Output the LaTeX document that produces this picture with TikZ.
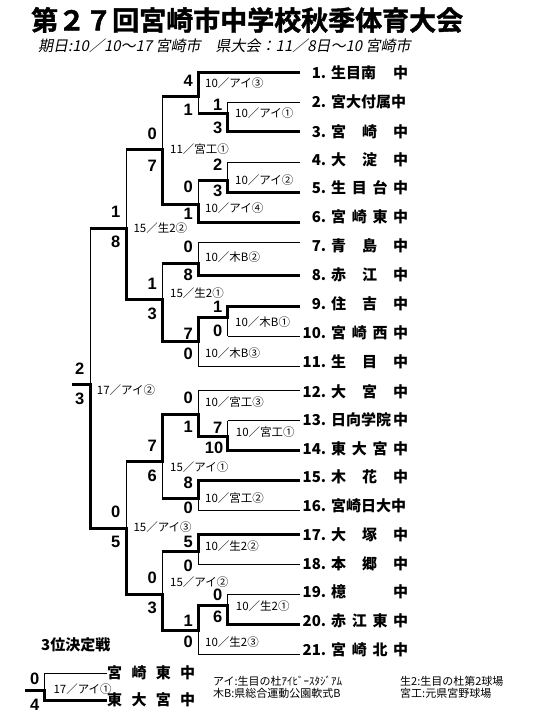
\documentclass[tikz,border=0pt]{standalone}
\usepackage{fontspec}
\newfontfamily\jp{Noto Sans CJK JP}
\newfontfamily\jpheavy[UprightFont=* Bold, FakeBold=1.5]{Noto Sans CJK JP}
\newfontfamily\jpslant[FakeSlant=0.2]{Noto Sans CJK JP}
\newfontfamily\numfont{Liberation Sans}
\usetikzlibrary{calc}
% team entry: number, then the name spread over a fixed width
\newcommand{\teamname}[2]{\makebox[19pt][r]{#1}\hspace{5pt}\makebox[77pt][l]{#2}}

\begin{document}
\begin{tikzpicture}[
  x=1pt, y=-1pt,
  bline/.style={line width=1pt},
  wline/.style={line width=3pt},
  score/.style={font=\numfont\bfseries\fontsize{16.5}{17}\selectfont,
                anchor=east, inner sep=0pt},
  venue/.style={font=\jp\fontsize{11.5}{12}\selectfont, anchor=west, inner sep=0pt},
  team/.style={font=\jp\bfseries\fontsize{15}{16}\selectfont, anchor=west, inner sep=0pt},
  legend/.style={font=\jp\fontsize{11}{12}\selectfont, anchor=west, inner sep=0pt},
]
\useasboundingbox (0,0) rectangle (540,720);
% Heading
\node[anchor=west, inner sep=0pt, font=\jpheavy\fontsize{27}{28}\selectfont] (title)
  at (31,20) {第２７回宮崎市中学校秋季体育大会};
\node[anchor=west, inner sep=0pt, font=\jpslant\fontsize{15}{16}\selectfont] (dates)
  at (38,46) {期日:10／10～17 宮崎市　県大会：11／8日～10 宮崎市};
% Team lines (right ends)
\coordinate (t1) at (300,72.3);  \coordinate (t2) at (300,102.3);
\coordinate (t3) at (300,131.7); \coordinate (t4) at (300,162.3);
\coordinate (t5) at (300,192.3); \coordinate (t6) at (300,222.3);
\coordinate (t7) at (300,242.3); \coordinate (t8) at (300,275.7);
\coordinate (t9) at (300,306.7); \coordinate (t10) at (300,336);
\coordinate (t11) at (300,366);  \coordinate (t12) at (300,390.7);
\coordinate (t13) at (300,420.7); \coordinate (t14) at (300,450.7);
\coordinate (t15) at (300,480.7); \coordinate (t16) at (300,510.7);
\coordinate (t17) at (300,534);  \coordinate (t18) at (300,564);
\coordinate (t19) at (300,594);  \coordinate (t20) at (300,624.3);
\coordinate (t21) at (300,654.3);
% Games (column x, output y)
\coordinate (g1) at (227.7,113.3); \coordinate (g2) at (198.3,96.7);
\coordinate (g3) at (227.7,180);   \coordinate (g4) at (198.3,204);
\coordinate (g5) at (162.3,149.3); \coordinate (g6) at (198.3,263.3);
\coordinate (g7) at (227.7,317.7); \coordinate (g8) at (198.3,341.7);
\coordinate (g9) at (162.3,299.3); \coordinate (g10) at (126,228.3);
\coordinate (g11) at (198.3,414.3); \coordinate (g12) at (227.7,436.7);
\coordinate (g13) at (198.3,498.3); \coordinate (g14) at (162.3,461.7);
\coordinate (g15) at (198.3,551.7); \coordinate (g16) at (162.3,594);
\coordinate (g17) at (227.7,605.7); \coordinate (g18) at (198.3,630);
\coordinate (g19) at (126,528.3);
\coordinate (fin) at (90,384);     \coordinate (champ) at (72,384);
% Team names
\node[team] (n1) at (307,73) {\teamname{1.}{生目南\hfill 中}};
\node[team] (n2) at (307,102) {\teamname{2.}{宮大付属中}};
\node[team] (n3) at (307,132) {\teamname{3.}{宮\hfill 崎\hfill 中}};
\node[team] (n4) at (307,160) {\teamname{4.}{大\hfill 淀\hfill 中}};
\node[team] (n5) at (307,188) {\teamname{5.}{生\hfill 目\hfill 台\hfill 中}};
\node[team] (n6) at (307,217) {\teamname{6.}{宮\hfill 崎\hfill 東\hfill 中}};
\node[team] (n7) at (307,246) {\teamname{7.}{青\hfill 島\hfill 中}};
\node[team] (n8) at (307,275) {\teamname{8.}{赤\hfill 江\hfill 中}};
\node[team] (n9) at (307,304) {\teamname{9.}{住\hfill 吉\hfill 中}};
\node[team] (n10) at (307,333) {\teamname{10.}{宮\hfill 崎\hfill 西\hfill 中}};
\node[team] (n11) at (307,362) {\teamname{11.}{生\hfill 目\hfill 中}};
\node[team] (n12) at (307,392) {\teamname{12.}{大\hfill 宮\hfill 中}};
\node[team] (n13) at (307,420) {\teamname{13.}{日向学院\hfill 中}};
\node[team] (n14) at (307,449) {\teamname{14.}{東\hfill 大\hfill 宮\hfill 中}};
\node[team] (n15) at (307,477) {\teamname{15.}{木\hfill 花\hfill 中}};
\node[team] (n16) at (307,506) {\teamname{16.}{宮崎日大中}};
\node[team] (n17) at (307,535) {\teamname{17.}{大\hfill 塚\hfill 中}};
\node[team] (n18) at (307,564) {\teamname{18.}{本\hfill 郷\hfill 中}};
\node[team] (n19) at (307,592) {\teamname{19.}{檍\hfill 中}};
\node[team] (n20) at (307,621) {\teamname{20.}{赤\hfill 江\hfill 東\hfill 中}};
\node[team] (n21) at (307,650) {\teamname{21.}{宮\hfill 崎\hfill 北\hfill 中}};
% Bracket skeleton: verticals and losing first lines
\draw[bline] (g1 |- t2) -- (g1 |- t3);   \draw[bline] (g2 |- t1) -- (g2 |- g1);
\draw[bline] (g3 |- t4) -- (g3 |- t5);   \draw[bline] (g4 |- g3) -- (g4 |- t6);
\draw[bline] (g5 |- g2) -- (g5 |- g4);   \draw[bline] (g6 |- t7) -- (g6 |- t8);
\draw[bline] (g7 |- t9) -- (g7 |- t10);  \draw[bline] (g8 |- g7) -- (g8 |- t11);
\draw[bline] (g9 |- g6) -- (g9 |- g8);   \draw[bline] (g10 |- g5) -- (g10 |- g9);
\draw[bline] (g11 |- t12) -- (g11 |- g12); \draw[bline] (g12 |- t13) -- (g12 |- t14);
\draw[bline] (g13 |- t15) -- (g13 |- t16); \draw[bline] (g14 |- g11) -- (g14 |- g13);
\draw[bline] (g15 |- t17) -- (g15 |- t18); \draw[bline] (g16 |- g15) -- (g16 |- g18);
\draw[bline] (g17 |- t19) -- (g17 |- t20); \draw[bline] (g18 |- g17) -- (g18 |- t21);
\draw[bline] (g19 |- g14) -- (g19 |- g16); \draw[bline] (fin |- g10) -- (fin |- g19);
\draw[bline] (t2) -- (g1 |- t2);   \draw[bline] (t4) -- (g3 |- t4);
\draw[bline] (t7) -- (g6 |- t7);   \draw[bline] (t10) -- (g7 |- t10);
\draw[bline] (t11) -- (g8 |- t11); \draw[bline] (t12) -- (g11 |- t12);
\draw[bline] (t13) -- (g12 |- t13); \draw[bline] (t16) -- (g13 |- t16);
\draw[bline] (t18) -- (g15 |- t18); \draw[bline] (t19) -- (g17 |- t19);
\draw[bline] (t21) -- (g18 |- t21);
% Winning runs
\draw[wline] (t1) -| (g2) -- (g5 |- g2);
\draw[wline] (t3) -| (g1) -- (g2 |- g1);
\draw[wline] (t5) -| (g3) -- (g4 |- g3);
\draw[wline] (t6) -| (g4) -| (g5) -- (g10 |- g5);
\draw[wline] (t8) -| (g6) -- (g9 |- g6);
\draw[wline] (t9) -| (g7) -| (g8) -| (g9) -| (g10) -- (fin |- g10);
\draw[wline] (t14) -| (g12) -| (g11) -| (g14) -- (g19 |- g14);
\draw[wline] (t15) -| (g13) -- (g14 |- g13);
\draw[wline] (t17) -| (g15) -- (g16 |- g15);
\draw[wline] (t20) -| (g17) -| (g18) -| (g16) -| (g19) -| (fin) -- (champ);
% Scores
\node[score] (s1a) at (222.5,104.5) {1};  \node[score] (s1b) at (222.5,128.3) {3};
\node[score] (s2a) at (193,80.7) {4};     \node[score] (s2b) at (193,110) {1};
\node[score] (s3a) at (222.5,165) {2};    \node[score] (s3b) at (222.5,191) {3};
\node[score] (s4a) at (193,187) {0};      \node[score] (s4b) at (193,214) {1};
\node[score] (s5a) at (157,133.7) {0};    \node[score] (s5b) at (157,166) {7};
\node[score] (s6a) at (193,247.3) {0};    \node[score] (s6b) at (193,275) {8};
\node[score] (s7a) at (222.5,307) {1};    \node[score] (s7b) at (222.5,330.7) {0};
\node[score] (s8a) at (193,334) {7};      \node[score] (s8b) at (193,354) {0};
\node[score] (s9a) at (157,284) {1};      \node[score] (s9b) at (157,314) {3};
\node[score] (s10a) at (120.5,212.3) {1}; \node[score] (s10b) at (120.5,242.3) {8};
\node[score] (sfa) at (84.5,369) {2};     \node[score] (sfb) at (84.5,399) {3};
\node[score] (s11a) at (193,398.3) {0};   \node[score] (s11b) at (193,426.7) {1};
\node[score] (s12a) at (222.5,428) {7};   \node[score] (s12b) at (223.5,448.3) {10};
\node[score] (s13a) at (193,482.7) {8};   \node[score] (s13b) at (193,508.3) {0};
\node[score] (s14a) at (157,445.7) {7};   \node[score] (s14b) at (157,476) {6};
\node[score] (s15a) at (193,541.7) {5};   \node[score] (s15b) at (193,565.7) {0};
\node[score] (s16a) at (157,577.7) {0};   \node[score] (s16b) at (157,608.3) {3};
\node[score] (s17a) at (222.5,595.3) {0}; \node[score] (s17b) at (222.5,617) {6};
\node[score] (s18a) at (193,620.7) {1};   \node[score] (s18b) at (193,642.3) {0};
\node[score] (s19a) at (120.5,511.7) {0}; \node[score] (s19b) at (120.5,542.3) {5};
% Dates / grounds
\node[venue] (v1) at (235,113.3) {10／アイ①};
\node[venue] (v2) at (205,83.3) {10／アイ③};
\node[venue] (v3) at (235,180) {10／アイ②};
\node[venue] (v4) at (205,208.3) {10／アイ④};
\node[venue] (v5) at (170,149.3) {11／宮工①};
\node[venue] (v6) at (205,256.7) {10／木B②};
\node[venue] (v7) at (235,322.3) {10／木B①};
\node[venue] (v8) at (205,353.3) {10／木B③};
\node[venue] (v9) at (170,293.3) {15／生2①};
\node[venue] (v10) at (133.3,228.3) {15／生2②};
\node[venue] (vf) at (96.7,390) {17／アイ②};
\node[venue] (v11) at (205,401.7) {10／宮工③};
\node[venue] (v12) at (235.7,432.3) {10／宮工①};
\node[venue] (v13) at (205,498.3) {10／宮工②};
\node[venue] (v14) at (170,466.7) {15／アイ①};
\node[venue] (v15) at (205,545.7) {10／生2②};
\node[venue] (v16) at (170,581.7) {15／アイ②};
\node[venue] (v17) at (235.7,605.7) {10／生2①};
\node[venue] (v18) at (205,641.7) {10／生2③};
\node[venue] (v19) at (133.3,527.3) {15／アイ③};
% Third place game
\node[anchor=west, inner sep=0pt, font=\jp\bfseries\fontsize{15}{16}\selectfont] (bronzehead)
  at (41,645) {3位決定戦};
\coordinate (third) at (44.3,690); \coordinate (bronze) at (25,690);
\node[team] (h1) at (107,673) {\makebox[88pt][l]{宮\hfill 崎\hfill 東\hfill 中}};
\node[team] (h2) at (107,700) {\makebox[88pt][l]{東\hfill 大\hfill 宮\hfill 中}};
\draw[bline] (h1.west) -| (third |- h2.west);
\draw[wline] (h2.west) -| (third) -- (bronze);
\node[score] (s3a) at (39.5,679) {0};    \node[score] (s3b) at (39.5,705) {4};
\node[venue] (v3rd) at (53.3,689) {17／アイ①};
% Legend
\node[legend] (k1) at (213,681) {アイ:生目の杜ｱｲﾋﾞｰｽﾀｼﾞｱﾑ};
\node[legend] (k2) at (213,693) {木B:県総合運動公園軟式B};
\node[legend] (k3) at (400,681) {生2:生目の杜第2球場};
\node[legend] (k4) at (400,693) {宮工:元県宮野球場};
\end{tikzpicture}
\end{document}
